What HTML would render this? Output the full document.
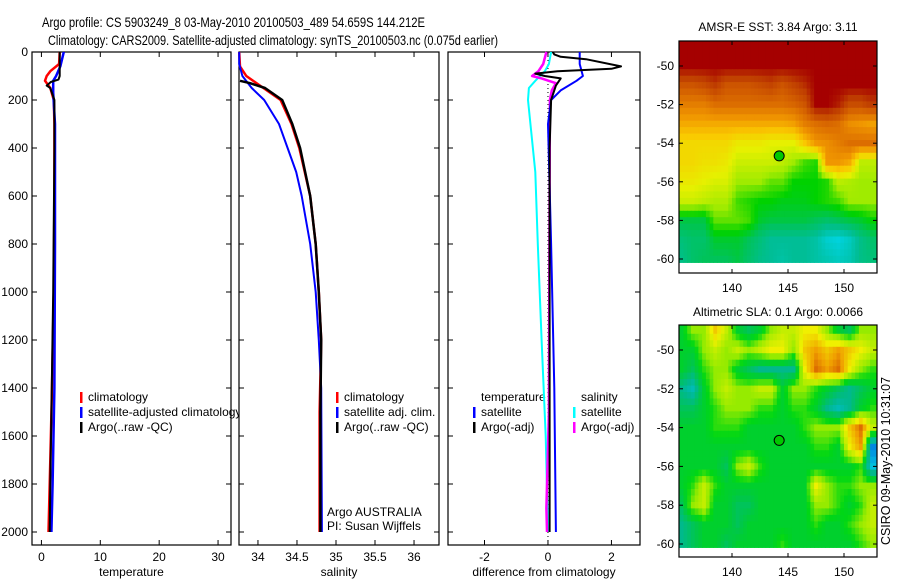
<!DOCTYPE html>
<html><head><meta charset="utf-8"><style>
html,body{margin:0;padding:0;background:#fff;}
svg{display:block;font-family:"Liberation Sans",sans-serif;}
</style></head><body>
<svg id="fig" width="900" height="580" viewBox="0 0 900 580" xmlns="http://www.w3.org/2000/svg">
<text x="42" y="27" font-size="14" textLength="383" lengthAdjust="spacingAndGlyphs">Argo profile: CS 5903249_8 03-May-2010 20100503_489 54.659S 144.212E</text>
<text x="48" y="45" font-size="14" textLength="450" lengthAdjust="spacingAndGlyphs">Climatology: CARS2009. Satellite-adjusted climatology: synTS_20100503.nc (0.075d earlier)</text>
<g id="layer"></g>
<text transform="translate(890,461) rotate(-90)" text-anchor="middle" font-size="13" textLength="168" lengthAdjust="spacingAndGlyphs">CSIRO 09-May-2010 10:31:07</text>
</svg>
<script>
// ---------- data ----------
const depthTicks = [0,200,400,600,800,1000,1200,1400,1600,1800,2000];
const tempTicks = [0,10,20,30];
const salTicks = [34,34.5,35,35.5,36];
const diffTicks = [-2,0,2];
const lonTicks = [140,145,150];
const latTicks = [-50,-52,-54,-56,-58,-60];

const tClimDepth = [0,50,80,100,120,150,200,300,600,1000,1400,1700,2000];
const tClimVal   = [3.1,3.0,1.5,0.9,0.6,1.5,2.1,2.2,2.2,2.1,1.8,1.5,1.2];
const tSatDepth  = [0,60,100,120,170,300,800,1400,1800,2000];
const tSatVal    = [3.8,3.2,2.5,2.0,2.0,2.3,2.3,2.2,1.9,1.7];
const tArgoDepth = [0,100,115,125,140,150,200,400,1000,1500,1800,2000];
const tArgoVal   = [3.1,3.1,2.9,1.6,0.9,1.5,2.2,2.2,2.0,1.7,1.5,1.4];

const sClimDepth = [0,60,100,150,200,300,400,600,800,1000,1200,1500,2000];
const sClimVal   = [33.76,33.77,33.85,34.07,34.29,34.43,34.53,34.67,34.74,34.78,34.81,34.79,34.79];
const sSatDepth  = [0,50,100,150,200,300,400,500,600,800,1000,1200,1400,2000];
const sSatVal    = [33.76,33.76,33.8,33.92,34.08,34.27,34.38,34.49,34.56,34.67,34.74,34.78,34.81,34.82];
const sArgoDepth = [120,130,150,200,300,400,600,800,1000,1200,1500,2000];
const sArgoVal   = [33.77,33.9,34.09,34.31,34.44,34.54,34.67,34.74,34.78,34.81,34.8,34.8];

const dTSatDepth = [0,50,100,120,160,200,300,800,1400,2000];
const dTSatVal   = [1.0,1.0,1.1,0.9,0.4,0.1,0.0,0.1,0.2,0.25];
const dTArgoDepth= [0,10,20,30,60,70,80,90,100,110,140,200,400,2000];
const dTArgoVal  = [0.15,0.2,0.4,1.2,2.3,2.0,0.3,-0.4,-0.1,0.4,0.25,0.1,0.05,0.05];
const dSSatDepth = [0,50,80,100,120,150,200,500,800,1200,1600,2000];
const dSSatVal   = [0.1,0.03,-0.1,-0.25,-0.4,-0.6,-0.63,-0.4,-0.32,-0.2,-0.07,0.0];
const dSArgoDepth= [0,50,80,100,110,130,160,200,1500,1900,2000];
const dSArgoVal  = [-0.05,-0.15,-0.3,-0.5,-0.2,0.25,0.12,0.06,0.03,-0.05,-0.03];

const mapLons = [135.5,136.5,137.5,138.5,139.5,140.5,141.5,142.5,143.5,144.5,145.5,146.5,147.5,148.5,149.5,150.5,151.5,152.5];
const mapLats = [-49,-50,-51,-52,-53,-54,-55,-56,-57,-58,-59,-60];
const sstGrid = [
[6,6,6,6,6,6,6,6,6,6,6,6,6,6,6,6,6,6],
[6,6,6,6,6,6,6,6,6,6,6,6,6,6,6,6,6,6],
[5.3,5.3,5.4,5.6,5.3,5.3,5.3,5.4,5.5,5.3,5.5,5.7,6,6,6,6,6,6],
[4.8,4.8,4.8,5,5,5,5,5,5,5,5.1,5.3,6,6,5.8,5.4,5.4,5.6],
[4.3,4.3,4.3,4.3,4.3,4.3,4.3,4.3,4.3,4.3,4.4,4.8,5,5.1,5,4.6,4.5,4.4],
[3.8,3.8,3.8,3.8,3.8,3.6,3.6,3.6,3.5,3.5,3.5,4.0,4.5,4.6,4.8,5,5,5],
[3.8,3.8,3.7,3.7,3.6,3.3,3.3,3.3,3.3,3.2,3.0,2.7,2.6,4.5,4.5,4.3,3.2,3.2],
[3.6,3.6,3.5,3.4,3.4,3.0,3.0,3.0,2.8,2.8,2.5,2.5,2.5,2.6,3.2,3.1,3,3],
[3.3,3.3,3.2,3.1,3.1,2.7,2.6,2.5,2.5,2.4,2.4,2.4,2.5,2.6,2.7,3,3,3],
[2.2,2.2,2.2,2.8,2.8,2.8,2.7,2.3,2.2,2.2,2.2,2.2,2.1,2.0,2.1,2.2,2.3,2.5],
[1.9,2.0,2.0,2.3,2.3,2.3,2.1,1.9,1.7,1.7,1.7,1.7,1.6,1.3,1.2,1.4,1.8,2.0],
[1.8,2.0,2.1,2.1,2.1,2.2,2.0,1.8,1.7,1.6,1.7,1.7,1.6,1.5,1.4,1.5,1.8,1.9]];
const slaGrid = [
[0,1,1,2.5,1.5,0,-0.5,0,1,1.5,1.5,2,2,1,0,-0.5,1,1],
[0,0,1,1.5,1,1.5,1,1.5,2,2,1,2.5,3,2.5,3,2.5,2,1.5],
[0,-0.5,0.5,1,1,0,-0.5,-1,-1,-1,-1,2,3.5,3,3.5,2,1,0.5],
[-1,-1.5,0,1,1.5,1,1,1.5,1.5,0,1,1,0.5,0,-0.5,-1,-0.5,0],
[-0.5,-0.5,0,0.5,1,1,1,0.5,0.5,0,0.5,0.5,0,-1,-1.5,-1,0,0.5],
[0,0,0,0.5,0.5,0.5,0,0,0,0,0,0.5,1,1,1,2.5,3.5,1.5],
[0,0,0,0,0,0,0,0,0,0,0,0,0.5,0.5,0,2,3,-2.5],
[0,0,0,0,-0.5,1,1.5,0.5,0,0,0,0,0,0,0,0,0.5,-2],
[0,0.5,1.5,0.5,0,0,0,0,0,0,0,0,2,1,0.5,0.5,1,1],
[-0.5,1,1.5,0,0,-0.5,-0.5,0,0,0,0,0,1,1,0.5,0,0.5,1.5],
[-1,-0.5,0,0,0,-0.5,0,0,0,0,0,0,0.5,0,0,0.5,1,1.5],
[-1,-0.5,0,0,-0.5,0,0,0,0,0.5,0,0,0,0,0,0,0.5,1]];
const argoLon = 144.212, argoLat = -54.659;

// ---------- helpers ----------
const NS="http://www.w3.org/2000/svg";
const layer=document.getElementById('layer');
function mk(tag,attrs,parent){const e=document.createElementNS(NS,tag);for(const k in attrs)e.setAttribute(k,attrs[k]);(parent||layer).appendChild(e);return e;}
function txt(x,y,s,size,anchor,parent){const t=mk('text',{x:x,y:y,'font-size':size,'text-anchor':anchor||'start'},parent);t.textContent=s;return t;}

const PT=52, PB=545;
const yD = d => PT + d*0.24;
function panel(name,x0,x1,xmin,xmax,ticks,label){
  const g=mk('g',{});
  
  
  mk('rect',{x:x0,y:PT,width:x1-x0,height:PB-PT,fill:'#fff',stroke:'#000','stroke-width':1.2},g);
  const sx=v=>x0+(v-xmin)/(xmax-xmin)*(x1-x0);
  ticks.forEach(v=>{const x=sx(v);mk('line',{x1:x,y1:PB,x2:x,y2:PB-5,stroke:'#000'},g);mk('line',{x1:x,y1:PT,x2:x,y2:PT+5,stroke:'#000'},g);
    const t=txt(x,561,String(v),12,'middle',g);
    
    });
  depthTicks.forEach(d=>{const y=yD(d);mk('line',{x1:x0,y1:y,x2:x0+5,y2:y,stroke:'#000'},g);mk('line',{x1:x1,y1:y,x2:x1-5,y2:y,stroke:'#000'},g);});
  const xl=txt((x0+x1)/2,576,label,12,'middle',g);
  
  
  return {g:g,sx:sx};
}
function line(p,depths,vals,color,w,name){
  const pts=depths.map((d,i)=>p.sx(vals[i]).toFixed(1)+','+yD(d).toFixed(1)).join(' ');
  const l=mk('polyline',{points:pts,fill:'none',stroke:color,'stroke-width':w,'stroke-linejoin':'round'},p.g);
  
  
}
function legend(g,x,y,color,label,name){
  mk('rect',{x:x,y:y-9,width:2.5,height:11,fill:color},g);
  const t=txt(x+8,y,label,12,'start',g);
  
  
}

depthTicks.forEach(d=>{const t=txt(28,yD(d)+4,String(d),12,'end');
  
  });

const p1=panel('temperature-panel',32,231,-1.6,32.2,tempTicks,'temperature');
legend(p1.g,80,401,'#f00','climatology','legend-climatology');
legend(p1.g,80,416,'#00f','satellite-adjusted climatology','legend-satellite-adjusted');
legend(p1.g,80,431,'#000','Argo(..raw -QC)','legend-argo');
line(p1,tClimDepth,tClimVal,'#f00',2.5,'temp-climatology-line');
line(p1,tSatDepth,tSatVal,'#00f',2.5,'temp-satellite-line');
line(p1,tArgoDepth,tArgoVal,'#000',2,'temp-argo-line');

const p2=panel('salinity-panel',239,439,33.757,36.32,salTicks,'salinity');
legend(p2.g,336,401,'#f00','climatology','legend-climatology');
legend(p2.g,336,416,'#00f','satellite adj. clim.','legend-satellite-adj');
legend(p2.g,336,431,'#000','Argo(..raw -QC)','legend-argo');
line(p2,sClimDepth,sClimVal,'#f00',2.5,'sal-climatology-line');
line(p2,sSatDepth,sSatVal,'#00f',2,'sal-satellite-line');
line(p2,sArgoDepth,sArgoVal,'#000',2.5,'sal-argo-line');
const a1=txt(327,516,'Argo AUSTRALIA',12,'start',p2.g);


const a2=txt(327,530,'PI: Susan Wijffels',12,'start',p2.g);



const p3=panel('difference-panel',448,640,-3.15,2.9,diffTicks,'difference from climatology');
mk('line',{x1:p3.sx(0),y1:PT,x2:p3.sx(0),y2:PB,stroke:'#000','stroke-dasharray':'1 3'},p3.g);
const lt=txt(481,401,'temperature',12,'start',p3.g);


const ls=txt(581,401,'salinity',12,'start',p3.g);


legend(p3.g,473,416,'#00f','satellite','legend-temp-satellite');
legend(p3.g,473,431,'#000','Argo(-adj)','legend-temp-argo');
legend(p3.g,573,416,'#0ff','satellite','legend-sal-satellite');
legend(p3.g,573,431,'#f0f','Argo(-adj)','legend-sal-argo');
line(p3,dSSatDepth,dSSatVal,'#0ff',2,'diff-sal-satellite-line');
line(p3,dSArgoDepth,dSArgoVal,'#f0f',2.5,'diff-sal-argo-line');
line(p3,dTSatDepth,dTSatVal,'#00f',2,'diff-temp-satellite-line');
line(p3,dTArgoDepth,dTArgoVal,'#000',2,'diff-temp-argo-line');

// ---------- maps ----------
function lerpC(stops,v){
  let c;
  if(v<=stops[0][0])c=stops[0][1];
  else if(v>=stops[stops.length-1][0])c=stops[stops.length-1][1];
  else for(let i=1;i<stops.length;i++){if(v<=stops[i][0]){const a=stops[i-1],b=stops[i],t=(v-a[0])/(b[0]-a[0]);
    c=[0,1,2].map(k=>Math.round(a[1][k]+(b[1][k]-a[1][k])*t));break;}}
  return 'rgb('+c.join(',')+')';
}
const sstStops=[[1.2,[0,210,220]],[1.7,[0,190,150]],[2.1,[0,195,90]],[2.5,[0,210,0]],[3.0,[160,235,0]],[3.5,[230,240,0]],[4.0,[250,200,0]],[4.5,[240,150,0]],[5.0,[220,110,0]],[5.6,[190,60,0]],[6,[165,0,0]]];
const slaStops=[[-3,[0,80,230]],[-2,[0,190,220]],[-1,[0,185,140]],[-0.3,[0,200,70]],[0.3,[0,215,20]],[1,[150,235,0]],[2,[240,240,0]],[3,[240,160,0]],[4,[200,60,0]]];

function sample(grid,r,c){ // bilinear between grid points (rendering only)
  const R=grid.length-1,C=grid[0].length-1;
  r=Math.max(0,Math.min(R,r));c=Math.max(0,Math.min(C,c));
  const r0=Math.floor(r),c0=Math.floor(c),r1=Math.min(R,r0+1),c1=Math.min(C,c0+1),fr=r-r0,fc=c-c0;
  return grid[r0][c0]*(1-fr)*(1-fc)+grid[r0][c1]*(1-fr)*fc+grid[r1][c0]*fr*(1-fc)+grid[r1][c1]*fr*fc;
}
function map(name,top,bottom,lat50y,lat60y,grid,stops,title,titleY,sub){
  const g=mk('g',{});
  
  
  const L=679,R=877;
  const sx=lon=>732+(lon-140)*11.2;
  const sy=lat=>lat50y+(-50-lat)*(lat60y-lat50y)/10;
  const clip='clip-'+name;
  const cp=mk('clipPath',{id:clip},g);
  mk('rect',{x:L,y:top,width:R-L,height:sy(-60.2)-top},cp);
  const cells=mk('g',{'clip-path':'url(#'+clip+')'},g);
  const nr=grid.length*sub,nc=grid[0].length*sub;
  for(let i=0;i<nr;i++)for(let j=0;j<nc;j++){
    const r=(i+0.5)/sub-0.5,c=(j+0.5)/sub-0.5;
    const v=sample(grid,r,c);
    const lon=mapLons[0]-0.5+(j)/sub, lat=mapLats[0]+0.5-(i)/sub;
    const x0=sx(lon),x1=sx(lon+1/sub),y0=sy(lat),y1=sy(lat-1/sub);
    const cell=mk('rect',{x:x0.toFixed(1),y:y0.toFixed(1),width:(x1-x0+0.6).toFixed(1),height:(y1-y0+0.6).toFixed(1),fill:lerpC(stops,v)},cells);
    
    
  }
  mk('rect',{x:L,y:top,width:R-L,height:bottom-top,fill:'none',stroke:'#000','stroke-width':1.2},g);
  lonTicks.forEach(lon=>{const x=sx(lon);mk('line',{x1:x,y1:top,x2:x,y2:top+4,stroke:'#000'},g);mk('line',{x1:x,y1:bottom,x2:x,y2:bottom-4,stroke:'#000'},g);
    const t=txt(x,bottom+19,String(lon),12,'middle',g);
    
    });
  latTicks.forEach(lat=>{const y=sy(lat);mk('line',{x1:L,y1:y,x2:L+4,y2:y,stroke:'#000'},g);mk('line',{x1:R,y1:y,x2:R-4,y2:y,stroke:'#000'},g);
    const t=txt(L-5,y+4,String(lat),12,'end',g);
    
    });
  const m=mk('circle',{cx:sx(argoLon),cy:sy(argoLat),r:5,fill:'#00c800',stroke:'#000','stroke-width':1},g);
  
  
  const t=txt(778,titleY,title,12,'middle',g);
  
  
}
map('sst-map',41,273,66,259,sstGrid,sstStops,'AMSR-E SST: 3.84 Argo: 3.11',31,3);
map('sla-map',325,557,350,544,slaGrid,slaStops,'Altimetric SLA: 0.1 Argo: 0.0066',316,3);
</script>
</body></html>
